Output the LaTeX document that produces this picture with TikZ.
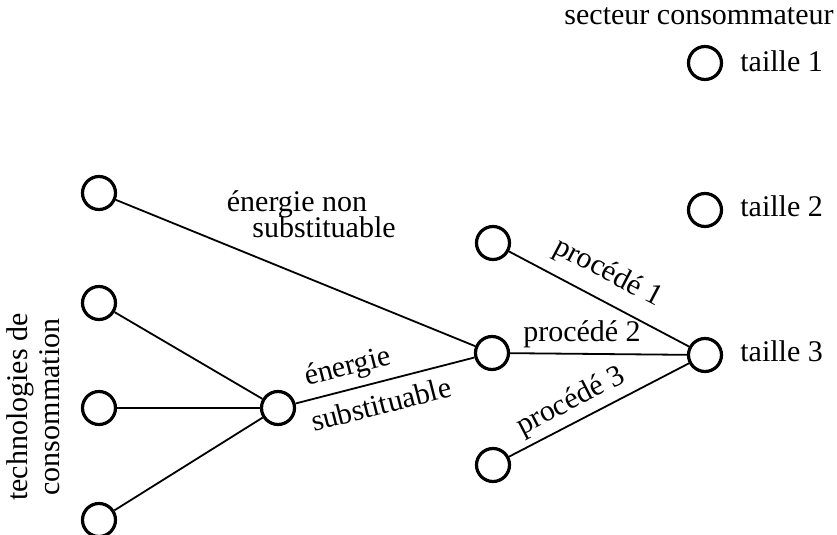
\documentclass[tikz,border=0pt]{standalone}
\usepackage{fontspec}
\setmainfont{Liberation Serif}
\begin{document}
\begin{tikzpicture}[x=0.5pt,y=-0.5pt,
  dot/.style={circle,draw,line width=1.6pt,minimum size=16.5pt,inner sep=0pt},
  link/.style={line width=0.9pt},
  lab/.style={font=\fontsize{15}{16}\selectfont,inner sep=0pt}]
\useasboundingbox (0,0) rectangle (837,535);
\node[dot] (l1) at (99,193) {};
\node[dot] (l2) at (99,303) {};
\node[dot] (l3) at (99,408) {};
\node[dot] (l4) at (99,520) {};
\node[dot] (hub) at (278,408) {};
\node[dot] (mid) at (492,353) {};
\node[dot] (p1) at (493,243) {};
\node[dot] (p3) at (493,465) {};
\node[dot] (t1) at (705,63) {};
\node[dot] (t2) at (705,210) {};
\node[dot] (t3) at (705,355) {};
\draw[link] (l1) -- (mid);
\draw[link] (l2) -- (hub);
\draw[link] (l3) -- (hub);
\draw[link] (l4) -- (hub);
\draw[link] (hub) -- (mid);
\draw[link] (p1) -- (t3);
\draw[link] (mid) -- (t3);
\draw[link] (p3) -- (t3);
\node[lab,anchor=base] (s0) at (699,25) {secteur consommateur};
\node[lab,anchor=base west] (s1) at (740,72) {taille 1};
\node[lab,anchor=base west] (s2) at (740,217) {taille 2};
\node[lab,anchor=base west] (s3) at (740,362) {taille 3};
\node[lab,anchor=base] (e1) at (297,212) {énergie non};
\node[lab,anchor=base] (e2) at (324,238) {substituable};
\node[lab,rotate=14.4] (e3) at (348,368) {énergie};
\node[lab,rotate=14.4] (e4) at (381,404) {substituable};
\node[lab,rotate=-27.8] (q1) at (608,273) {procédé 1};
\node[lab,anchor=base] (q2) at (582,342) {procédé 2};
\node[lab,rotate=27.4] (q3) at (571,402) {procédé 3};
\node[lab,rotate=90,align=center] (tc) at (33,407) {technologies de\\consommation};
\end{tikzpicture}
\end{document}
